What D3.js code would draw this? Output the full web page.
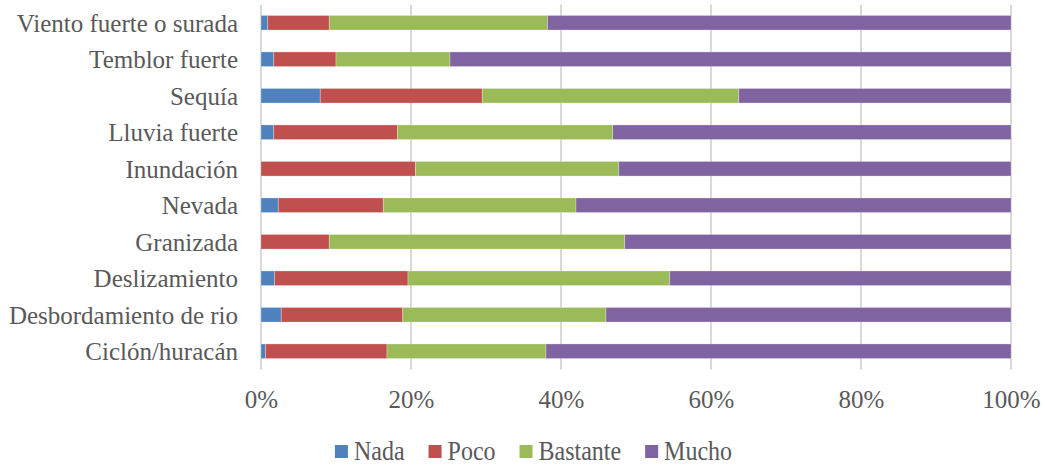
<!DOCTYPE html>
<html>
<head>
<meta charset="utf-8">
<script src="https://cdn.jsdelivr.net/npm/d3@7"></script>
<style>
  html, body { margin: 0; padding: 0; background: #fff; }
  svg text { font-family: "Liberation Serif", "Times New Roman", serif; fill: #595959; }
</style>
</head>
<body>
<svg id="chart" width="1045" height="465"></svg>
<script>
// Hazard categories, top to bottom
const categories = [
  "Viento fuerte o surada",
  "Temblor fuerte",
  "Sequía",
  "Lluvia fuerte",
  "Inundación",
  "Nevada",
  "Granizada",
  "Deslizamiento",
  "Desbordamiento de rio",
  "Ciclón/huracán"
];

// Share of answers (%) per level of concern
const nada     = [0.9, 1.7, 7.9, 1.7, 0.0, 2.3, 0.0, 1.8, 2.7, 0.6];
const poco     = [8.2, 8.3, 21.6, 16.5, 20.6, 14.0, 9.1, 17.8, 16.2, 16.2];
const bastante = [29.1, 15.2, 34.2, 28.7, 27.1, 25.7, 39.4, 34.9, 27.1, 21.2];
const mucho    = [61.8, 74.8, 36.3, 53.1, 52.3, 58.0, 51.5, 45.5, 54.0, 62.0];

const seriesNames = ["Nada", "Poco", "Bastante", "Mucho"];
const seriesColors = ["#4F81BD", "#C0504D", "#9BBB59", "#8064A2"];
const tickValues = [0, 0.2, 0.4, 0.6, 0.8, 1.0];

const svg = d3.select("#chart");
const margin = { left: 261, right: 34, top: 4.5, bottom: 95.5 };
const W = 1045, H = 465;

// Build rows and normalise each to 100%
const rows = categories.map((c, i) => {
  const vals = [nada[i], poco[i], bastante[i], mucho[i]];
  const total = d3.sum(vals);
  const r = { category: c };
  seriesNames.forEach((s, j) => r[s] = vals[j] / total);
  return r;
});

const stacked = d3.stack().keys(seriesNames)(rows);

const x = d3.scaleLinear().domain([0, 1]).range([margin.left, W - margin.right]);
const y = d3.scaleBand().domain(categories).range([margin.top, H - margin.bottom]).paddingInner(0.6).paddingOuter(0.3);

// Vertical gridlines
svg.append("g")
  .selectAll("line")
  .data(tickValues)
  .join("line")
  .attr("x1", d => x(d)).attr("x2", d => x(d))
  .attr("y1", margin.top).attr("y2", H - margin.bottom)
  .attr("stroke", "#d9d9d9")
  .attr("stroke-width", 2);

// Stacked bars
svg.append("g")
  .selectAll("g")
  .data(stacked)
  .join("g")
  .attr("fill", (d, i) => seriesColors[i])
  .selectAll("rect")
  .data(d => d)
  .join("rect")
  .attr("x", d => x(d[0]))
  .attr("y", d => y(d.data.category))
  .attr("width", d => Math.max(0, x(d[1]) - x(d[0])))
  .attr("height", y.bandwidth())
  .attr("stroke", "#ffffff")
  .attr("stroke-opacity", 0.35)
  .attr("stroke-width", 0.8);

// Category axis (labels only)
const yAxis = svg.append("g")
  .attr("transform", `translate(${margin.left},0)`)
  .call(d3.axisLeft(y).tickSize(0).tickPadding(23));
yAxis.select(".domain").remove();
yAxis.selectAll("text")
  .attr("font-size", 25)
  .attr("dy", "0.35em")
  .style("font-family", "'Liberation Serif', serif")
  .style("fill", "#595959");

// Percentage axis (labels only)
const xAxis = svg.append("g")
  .attr("transform", `translate(0,${H - margin.bottom})`)
  .call(d3.axisBottom(x).tickValues(tickValues).tickFormat(d3.format(".0%")).tickSize(0).tickPadding(0));
xAxis.select(".domain").remove();
xAxis.selectAll("text")
  .attr("y", 38)
  .attr("dy", 0)
  .attr("font-size", 25)
  .style("font-family", "'Liberation Serif', serif")
  .style("fill", "#595959");

// Legend, centred under the plot
const legend = svg.append("g");
const items = legend.selectAll("g")
  .data(seriesNames)
  .join("g");
items.append("rect")
  .attr("width", 13).attr("height", 13)
  .attr("y", 445)
  .attr("fill", (d, i) => seriesColors[i]);
items.append("g")
  .attr("transform", "translate(19,460) scale(1,1.12)")
  .append("text")
  .attr("font-size", 24)
  .text(d => d);

let cursor = 0;
const offsets = [];
items.each(function () {
  offsets.push(cursor);
  const w = d3.select(this).select("text").node().getComputedTextLength();
  cursor += 19 + w + 24;
});
const totalW = cursor - 24;
const startX = 533.5 - totalW / 2;
items.attr("transform", (d, i) => `translate(${startX + offsets[i]},0)`);
</script>
</body>
</html>
